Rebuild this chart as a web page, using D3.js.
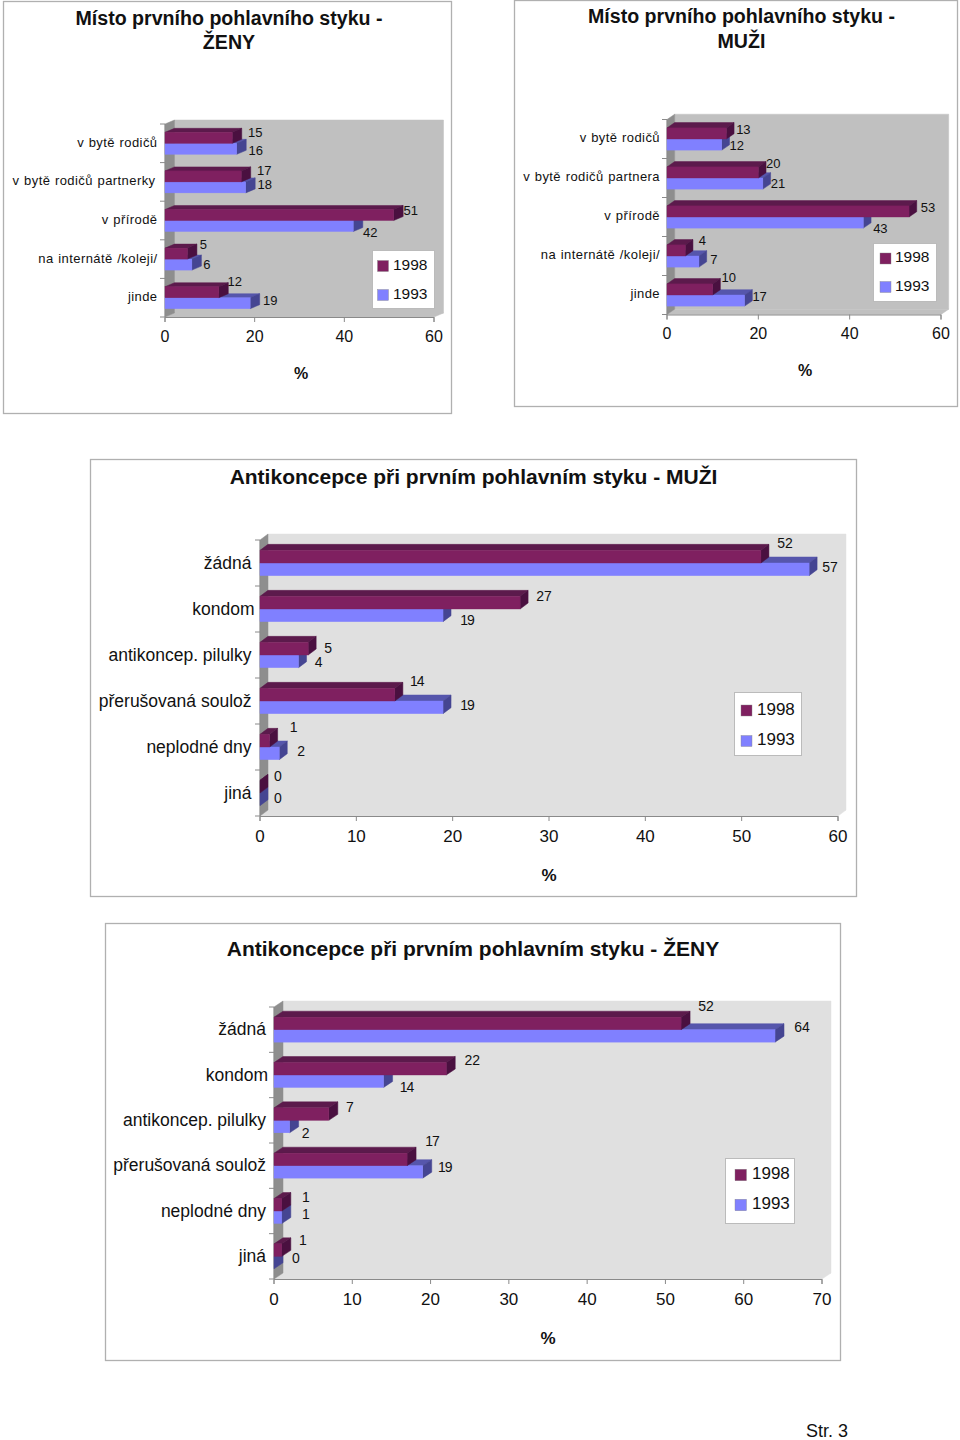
<!DOCTYPE html>
<html><head><meta charset="utf-8">
<script src="https://cdn.jsdelivr.net/npm/d3@7/dist/d3.min.js"></script>
<style>
html,body{margin:0;padding:0;background:#fff}
svg{display:block}
text{font-family:"Liberation Sans",Arial,sans-serif;fill:#111}
</style></head><body><svg id="c" width="960" height="1440"></svg>
<script>
const series = ["1998", "1993"];
const catsPlaceF = ["v bytě rodičů", "v bytě rodičů partnerky", "v přírodě", "na internátě /koleji/", "jinde"];
const catsPlaceM = ["v bytě rodičů", "v bytě rodičů partnera", "v přírodě", "na internátě /koleji/", "jinde"];
const catsContra = ["žádná", "kondom", "antikoncep. pilulky", "přerušovaná soulož", "neplodné dny", "jiná"];
const placeF1998 = [15, 17, 51, 5, 12];
const placeF1993 = [16, 18, 42, 6, 19];
const placeM1998 = [13, 20, 53, 4, 10];
const placeM1993 = [12, 21, 43, 7, 17];
const contraM1998 = [52, 27, 5, 14, 1, 0];
const contraM1993 = [57, 19, 4, 19, 2, 0];
const contraF1998 = [52, 22, 7, 17, 1, 1];
const contraF1993 = [64, 14, 2, 19, 1, 0];
const ticks60by20 = [0, 20, 40, 60];
const ticks60by10 = [0, 10, 20, 30, 40, 50, 60];
const ticks70by10 = [0, 10, 20, 30, 40, 50, 60, 70];

const colours = {
  "1998": {front:"#7f2060", top:"#5c1a4c", side:"#4a1040"},
  "1993": {front:"#8080ff", top:"#5656ac", side:"#454592"}
};

const charts = [
 {frame:[3.5,1.5,448,412], title:["Místo prvního pohlavního styku -","ŽENY"], titleX:229, titleY:[25,49], titleSize:19.6,
  cats:catsPlaceF, a:placeF1998, b:placeF1993, ticks:ticks60by20, x:[165,434], y:[124,317], depth:[9.5,4], wall:"#c0c0c0",
  catX:157.5, catSize:13, catSpacing:0.42, wordSpacing:0.6, catDy:-1, catNudge:{1:-2}, tickY:341.5, tickSize:16, pct:[301,379], pctSize:16, valSize:13, tight:0,
  legend:[372,250,62,58], legendSize:15.5, swatch:11, rowY:[266,295], swatchX:377.5, legendTextX:393,
  nudgeA:[[23,-11],[23,-12],[17,-10],[16,-15],[16,-16]], nudgeB:[[19,7],[19,2],[17,12],[15,5],[20,3]], barFrac:0.285},
 {frame:[514.5,0.5,443,406], title:["Místo prvního pohlavního styku -","MUŽI"], titleX:741.5, titleY:[23,48], titleSize:19.6,
  cats:catsPlaceM, a:placeM1998, b:placeM1993, ticks:ticks60by20, x:[667,941], y:[119.5,314.5], depth:[7.7,5.3], wall:"#c0c0c0",
  catX:660, catSize:13, catSpacing:0.42, wordSpacing:0.6, catDy:-1, catNudge:{}, tickY:338.5, tickSize:16, pct:[805,376], pctSize:16, valSize:13, tight:0,
  legend:[873,243,63,58], legendSize:15.5, swatch:11, rowY:[258.5,287], swatchX:880, legendTextX:895,
  nudgeA:[[17,-10],[15,-15],[19,-10],[17,-15.5],[16,-17.5]], nudgeB:[[15,6],[15,5],[17,11],[15,3.5],[15,1.5]], barFrac:0.285},
 {frame:[90.5,459.5,766,437], title:["Antikoncepce při prvním pohlavním styku - MUŽI"], titleX:473.5, titleY:[484], titleSize:21,
  cats:catsContra, a:contraM1998, b:contraM1993, ticks:ticks60by10, x:[260,838], y:[540,816], depth:[8,6], wall:"#e0e0e0",
  catX:251.5, catSize:17.5, catSpacing:0, wordSpacing:0, catDy:0, catNudge:{1:3}, tickY:842, tickSize:17, pct:[549,881], pctSize:17, valSize:14, tight:-1,
  legend:[734,692,67,63], legendSize:17, swatch:11, rowY:[710.5,741], swatchX:741, legendTextX:757,
  nudgeA:[[24,-20],[24,-13],[20,-7],[22,-20],[24,-20],[18,-17]], nudgeB:[[21,4],[24,11],[20,7],[24,4],[22,4],[18,5]], barFrac:0.275},
 {frame:[105.5,923.5,735,437], title:["Antikoncepce při prvním pohlavním styku - ŽENY"], titleX:473, titleY:[956], titleSize:21,
  cats:catsContra, a:contraF1998, b:contraF1993, ticks:ticks70by10, x:[274,822], y:[1007,1279], depth:[9,6], wall:"#e0e0e0",
  catX:266, catSize:17.5, catSpacing:0, wordSpacing:0, catDy:0, catNudge:{1:2}, tickY:1305, tickSize:17, pct:[548,1344], pctSize:17, valSize:14, tight:-1,
  legend:[725,1158,69,65], legendSize:17, swatch:11.5, rowY:[1175,1205], swatchX:735, legendTextX:752,
  nudgeA:[[25,-24],[26,-15],[21,-13],[25,-25],[24,-14],[21,-16]], nudgeB:[[27,-3],[23,12],[16,13],[22,1],[24,3],[22,2]], barFrac:0.275}
];

const svg = d3.select("#c");
const poly = (g, pts, fill, stroke) => g.append("polygon")
  .attr("points", pts.map(p => p.join(",")).join(" "))
  .attr("fill", fill).attr("stroke", stroke || fill).attr("stroke-width", 0.5);

function drawChart(c) {
  const g = svg.append("g");
  g.append("rect").attr("x", c.frame[0]).attr("y", c.frame[1]).attr("width", c.frame[2]).attr("height", c.frame[3])
    .attr("fill", "#fff").attr("stroke", "#b0b0b0").attr("stroke-width", 1.3);
  c.titleY.forEach((yy, i) => g.append("text").attr("x", c.titleX).attr("y", yy).attr("text-anchor", "middle")
    .attr("font-size", c.titleSize).attr("font-weight", "bold").text(c.title[i]));

  const x = d3.scaleLinear().domain([c.ticks[0], c.ticks[c.ticks.length - 1]]).range(c.x);
  const y = d3.scaleBand().domain(c.cats).range(c.y);
  const [dx, dy] = c.depth;
  const [L, R] = c.x, [T, B] = c.y;

  poly(g, [[L+dx,T-dy],[R+dx,T-dy],[R+dx,B-dy],[L+dx,B-dy]], c.wall);
  poly(g, [[L,B],[L+dx,B-dy],[R+dx,B-dy],[R,B]], c.wall);
  poly(g, [[L,T],[L+dx,T-dy],[L+dx,B-dy],[L,B]], "#8e8e8e");

  const ax = g.append("g").attr("transform", `translate(-0.5,${B})`)
    .call(d3.axisBottom(x).tickValues(c.ticks).tickSize(5).tickFormat(d3.format("d")));
  ax.selectAll("path,line").attr("stroke", "#8a8a8a");
  ax.selectAll("text").attr("y", c.tickY - B).attr("dy", 0).attr("font-size", c.tickSize)
    .attr("font-family", '"Liberation Sans",Arial,sans-serif').attr("fill", "#111").style("fill", "#111");
  const boundaries = d3.range(c.cats.length + 1).map(i => T + i * y.step());
  g.selectAll(null).data(boundaries).join("line")
    .attr("x1", L - 5).attr("x2", L).attr("y1", d => d).attr("y2", d => d).attr("stroke", "#8a8a8a");
  g.append("line").attr("x1", L).attr("x2", L).attr("y1", T).attr("y2", B).attr("stroke", "#8a8a8a");

  const h = y.step() * c.barFrac;
  const drawBar = (cat, v, name, top) => {
    const col = colours[name], x1 = x(v), x0 = x(0);
    poly(g, [[x0,top],[x0+dx,top-dy],[x1+dx,top-dy],[x1,top]], col.top);
    poly(g, [[x1,top],[x1+dx,top-dy],[x1+dx,top+h-dy],[x1,top+h]], col.side);
    if (v > 0) g.append("rect").attr("x", x0).attr("y", top).attr("width", x1 - x0).attr("height", h)
      .attr("fill", col.front).attr("stroke", col.front).attr("stroke-width", 0.4);
  };
  c.cats.forEach((cat, i) => {
    const mid = y(cat) + y.bandwidth() / 2;
    drawBar(cat, c.b[i], series[1], mid);
    drawBar(cat, c.a[i], series[0], mid - h);
    [[c.a, c.nudgeA], [c.b, c.nudgeB]].forEach(([vals, nud]) => {
      g.append("text").attr("x", x(vals[i]) + nud[i][0]).attr("y", mid + nud[i][1] + c.valSize * 0.36)
        .attr("text-anchor", "middle").attr("font-size", c.valSize)
        .style("letter-spacing", (vals[i] >= 10 && vals[i] < 20 ? c.tight : 0) + "px").text(vals[i]);
    });
    g.append("text").attr("x", c.catX + (c.catNudge[i] || 0)).attr("y", mid + c.catSize * 0.3 + 0.5 + c.catDy)
      .attr("text-anchor", "end").attr("font-size", c.catSize)
      .style("letter-spacing", c.catSpacing + "px").style("word-spacing", c.wordSpacing + "px").text(cat);
  });

  g.append("text").attr("x", c.pct[0]).attr("y", c.pct[1]).attr("text-anchor", "middle")
    .attr("font-size", c.pctSize).attr("font-weight", "bold").text("%");

  g.append("rect").attr("x", c.legend[0] + .5).attr("y", c.legend[1] + .5).attr("width", c.legend[2]).attr("height", c.legend[3])
    .attr("fill", "#fff").attr("stroke", "#bbb");
  series.forEach((s, i) => {
    g.append("rect").attr("x", c.swatchX).attr("y", c.rowY[i] - c.swatch / 2).attr("width", c.swatch).attr("height", c.swatch)
      .attr("fill", colours[s].front).attr("stroke", "#888").attr("stroke-width", 0.4);
    g.append("text").attr("x", c.legendTextX).attr("y", c.rowY[i] - 2 + c.legendSize * 0.36)
      .attr("font-size", c.legendSize).text(s);
  });
}
charts.forEach(drawChart);
svg.append("text").attr("x", 806).attr("y", 1437).attr("font-size", 18).text("Str. 3");
</script></body></html>
